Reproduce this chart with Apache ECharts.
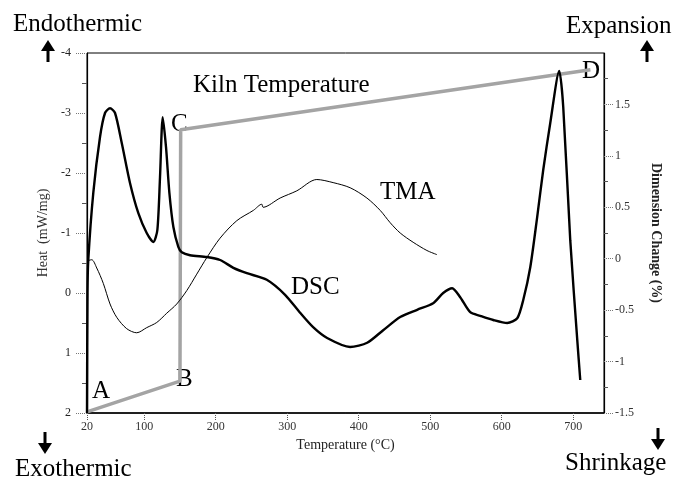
<!DOCTYPE html>
<html>
<head>
<meta charset="utf-8">
<title>DSC / TMA</title>
<script src="https://cdn.jsdelivr.net/npm/echarts@6/dist/echarts.min.js"></script>
<style>
  html, body { margin: 0; padding: 0; background: #fff; }
  #chart { width: 677px; height: 478px; }
</style>
</head>
<body>
<div id="chart"></div>
<script>
// DSC trace (heat, mW/mg, plotted with endothermic up)
const dscTemp = [20, 20.7, 21.8, 28.8, 38.2, 45.2, 52.2, 59.2, 68.6, 80.2, 91.8, 103.5, 112.8, 118.4, 122.1, 125.9, 130.5, 135.2, 140.8, 147.7, 152.5, 164.1, 187.5, 206.1, 224.7, 243.5, 271.4, 297, 318, 336.2, 355.8, 388, 411.8, 434.2, 458, 481.7, 504.1, 518.1, 530.7, 541.9, 555.9, 569.9, 588.1, 607.7, 621.7, 630, 639.9, 649.6, 658, 667.8, 680.4, 686, 695.8, 705.6, 709.8];
const dscHeat = [2.0, 0, -0.55, -1.67, -2.6, -3.0, -3.08, -3.0, -2.5, -1.83, -1.33, -1.0, -0.85, -1.05, -1.93, -2.93, -2.43, -1.67, -1.1, -0.77, -0.68, -0.63, -0.6, -0.55, -0.42, -0.33, -0.22, 0.03, 0.33, 0.57, 0.75, 0.9, 0.83, 0.62, 0.4, 0.28, 0.17, 0, -0.08, 0.07, 0.32, 0.38, 0.45, 0.5, 0.42, 0.12, -0.43, -1.27, -2.05, -2.83, -3.7, -3.1, -0.88, 0.78, 1.45];

// TMA trace (dimension change, %)
const tmaTemp = [20.4, 26.6, 33.6, 42.8, 52.2, 61.6, 75.5, 89.5, 103.5, 117.5, 131.5, 145.5, 159.5, 173.5, 187.5, 206.1, 229.5, 252.7, 264.4, 266.3, 290.1, 313.4, 341.4, 364.2, 388, 411.4, 430, 444, 458, 476.1, 495.3, 509.3];
const tmaDim = [-0.02, -0.01, -0.09, -0.24, -0.44, -0.57, -0.68, -0.72, -0.67, -0.62, -0.53, -0.44, -0.31, -0.15, 0.01, 0.2, 0.37, 0.47, 0.53, 0.5, 0.59, 0.66, 0.77, 0.74, 0.69, 0.59, 0.47, 0.35, 0.25, 0.16, 0.08, 0.04];

// kiln temperature schedule A-B-C-D (drawn on the heat scale)
const kilnTemp = [20, 150, 151, 724];
const kilnHeat = [1.98, 1.47, -2.72, -3.72];

const tempTicks = [20, 100, 200, 300, 400, 500, 600, 700];
const dimTicks = [-1.5, -1, -0.5, 0, 0.5, 1, 1.5];

const zip = (a, b) => a.map((v, i) => [v, b[i]]);
const serif = '"Liberation Serif", "DejaVu Serif", serif';

const chart = echarts.init(document.getElementById('chart'));

// small filled arrow (up or down)
function arrow(cx, top, up) {
  const h = 22, hw = 7, head = 11;
  const shaft = up
    ? { type: 'rect', shape: { x: cx - 1.5, y: top + head - 1, width: 3, height: h - head + 1 } }
    : { type: 'rect', shape: { x: cx - 1.5, y: top, width: 3, height: h - head + 1 } };
  const tip = up
    ? { type: 'polygon', shape: { points: [[cx, top], [cx - hw, top + head], [cx + hw, top + head]] } }
    : { type: 'polygon', shape: { points: [[cx, top + h], [cx - hw, top + h - head], [cx + hw, top + h - head]] } };
  shaft.style = { fill: '#000' };
  tip.style = { fill: '#000' };
  return [shaft, tip];
}

function label(text, x, y) {
  return {
    type: 'text', x: x, y: y,
    style: { text: text, font: '25px ' + serif, fill: '#000', verticalAlign: 'middle' }
  };
}

chart.setOption({
  animation: false,
  backgroundColor: '#fff',
  grid: {
    left: 87, right: 73, top: 53, bottom: 65,
    show: true, borderColor: '#000', borderWidth: 1
  },
  xAxis: {
    type: 'value',
    min: 20,
    max: 743,
    name: 'Temperature (°C)',
    nameLocation: 'middle',
    nameGap: 24,
    nameTextStyle: { fontFamily: serif, fontSize: 14, color: '#222' },
    axisLine: { onZero: false, lineStyle: { color: '#000', width: 1.5 } },
    axisTick: { customValues: tempTicks, length: 7, lineStyle: { color: '#555', type: 'dotted' } },
    axisLabel: { customValues: tempTicks, fontFamily: serif, fontSize: 12, color: '#333', margin: 8 },
    splitLine: { show: false }
  },
  yAxis: [
    {
      type: 'value',
      inverse: true,
      min: -4,
      max: 2,
      interval: 1,
      position: 'left',
      name: 'Heat  (mW/mg)',
      nameLocation: 'middle',
      nameGap: 33,
      nameRotate: 90,
      nameTextStyle: { fontFamily: serif, fontSize: 14, color: '#333' },
      axisLine: { show: true, onZero: false, lineStyle: { color: '#000', width: 1.2 } },
      axisTick: { length: 12, lineStyle: { color: '#777', type: 'dotted' } },
      minorTick: { show: true, splitNumber: 2, length: 5, lineStyle: { color: '#555' } },
      axisLabel: { fontFamily: serif, fontSize: 12, color: '#222', margin: 16 },
      splitLine: { show: false }
    },
    {
      type: 'value',
      min: -1.5,
      max: 2,
      interval: 0.5,
      position: 'right',
      name: 'Dimension Change (%)',
      nameLocation: 'middle',
      nameGap: 45,
      nameRotate: -90,
      nameTextStyle: { fontFamily: serif, fontSize: 14, fontWeight: 'bold', color: '#222' },
      axisLine: { show: true, onZero: false, lineStyle: { color: '#000', width: 1.2 } },
      axisTick: { customValues: dimTicks, length: 9, lineStyle: { color: '#777', type: 'dotted' } },
      minorTick: { show: true, splitNumber: 2, length: 4, lineStyle: { color: '#555' } },
      axisLabel: { customValues: dimTicks, fontFamily: serif, fontSize: 12, color: '#333', margin: 11 },
      splitLine: { show: false }
    }
  ],
  series: [
    {
      name: 'Kiln Temperature',
      type: 'line',
      yAxisIndex: 0,
      data: zip(kilnTemp, kilnHeat),
      showSymbol: false,
      lineStyle: { color: '#a4a4a4', width: 3.5 },
      z: 1
    },
    {
      name: 'TMA',
      type: 'line',
      yAxisIndex: 1,
      data: zip(tmaTemp, tmaDim),
      showSymbol: false,
      smooth: 0.3,
      lineStyle: { color: '#000', width: 1 },
      z: 2
    },
    {
      name: 'DSC',
      type: 'line',
      yAxisIndex: 0,
      data: zip(dscTemp, dscHeat),
      showSymbol: false,
      smooth: 0.25,
      lineStyle: { color: '#000', width: 2.4 },
      z: 3
    }
  ],
  graphic: [
    label('Endothermic', 13, 24),
    label('Expansion', 566, 26),
    label('Exothermic', 15, 469),
    label('Shrinkage', 565, 463),
    label('Kiln Temperature', 193, 85),
    label('TMA', 380, 192),
    label('DSC', 291, 287),
    label('A', 92, 391),
    label('B', 176, 379),
    label('C', 171, 124),
    label('D', 582, 71),
    ...arrow(48, 40, true),
    ...arrow(647, 40, true),
    ...arrow(45, 432, false),
    ...arrow(658, 428, false)
  ]
});
</script>
</body>
</html>
